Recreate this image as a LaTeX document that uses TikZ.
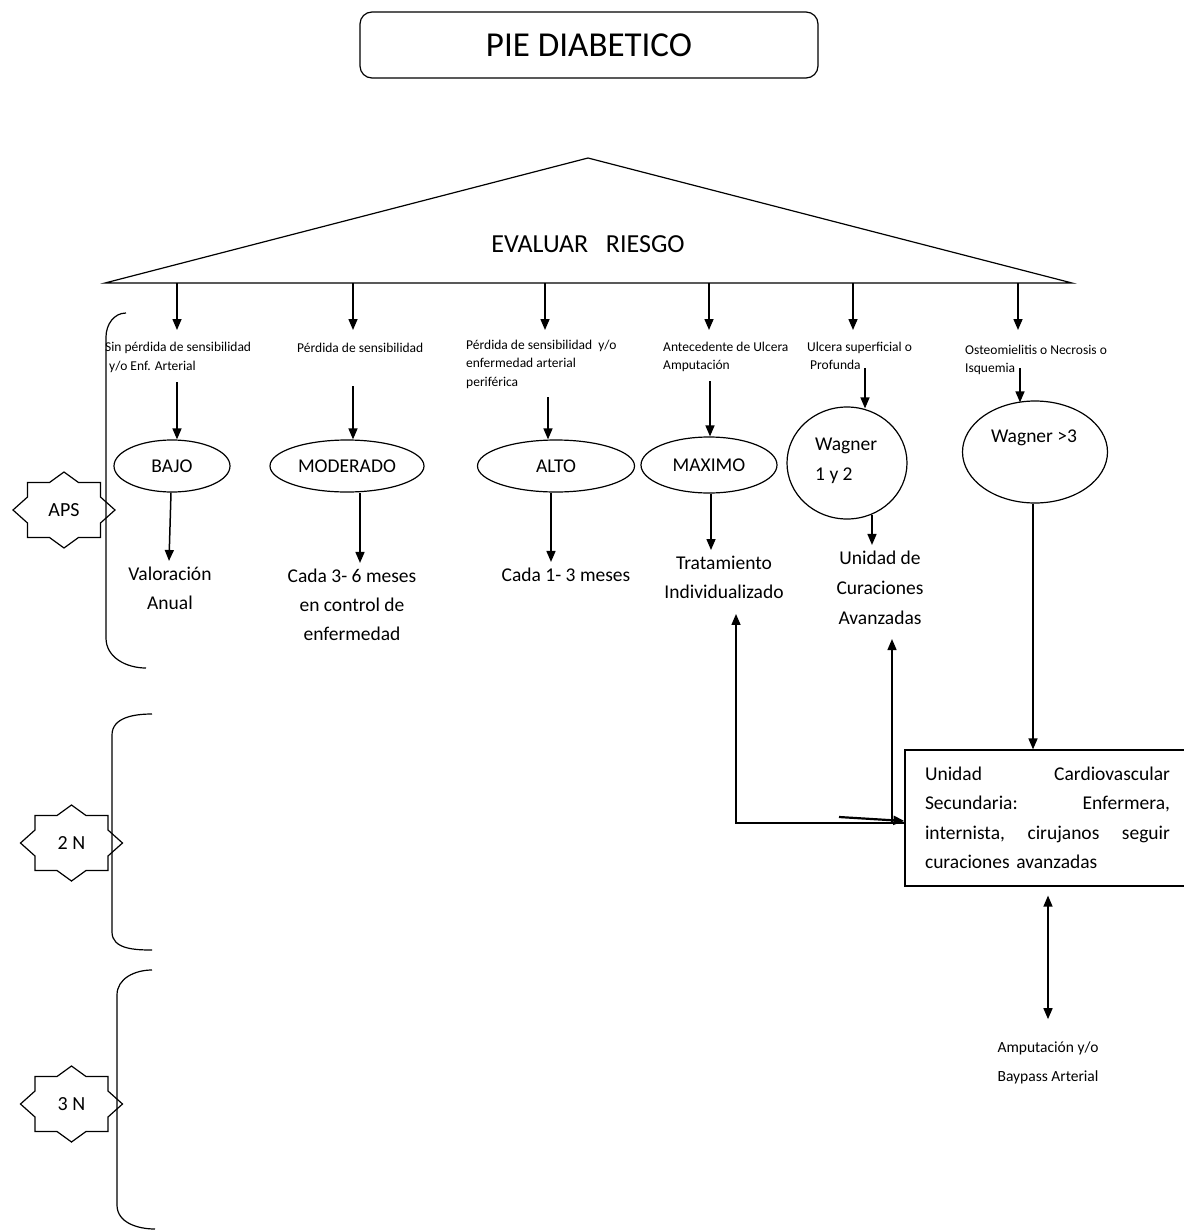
\documentclass[tikz,border=0pt]{standalone}
\usepackage{fontspec}
\setmainfont{Carlito}
\usetikzlibrary{arrows.meta,shapes.geometric}
\begin{document}
\begin{tikzpicture}[x=1pt,y=-1pt,
  arr/.style={line width=1.5pt,-{Triangle[length=11pt,width=9pt]}},
  dbl/.style={line width=1.5pt,{Triangle[length=11pt,width=9pt]}-{Triangle[length=11pt,width=9pt]}},
  ell/.style={draw,ellipse,line width=1.2pt,inner sep=0pt,font=\fontsize{19.5}{29}\selectfont},
  sm/.style={font=\fontsize{13.5}{18.5}\selectfont,align=left,inner sep=0pt,anchor=west},
  med/.style={font=\fontsize{19.5}{29}\selectfont,align=center,inner sep=6pt},
  mfont/.style={font=\fontsize{19.5}{30}\selectfont,inner sep=0pt},
  starfont/.style={font=\fontsize{20}{24}\selectfont},
  brk/.style={line width=1.2pt},
  starpic/.pic={\draw[line width=1.2pt] (-51,0) -- (-36.5,-13) -- (-36.5,-27.5) -- (-14.5,-27.5) -- (0,-38) -- (14.5,-27.5) -- (36.5,-27.5) -- (36.5,-13) -- (51,0) -- (36.5,13) -- (36.5,27.5) -- (14.5,27.5) -- (0,38) -- (-14.5,27.5) -- (-36.5,27.5) -- (-36.5,13) -- cycle;}]
\useasboundingbox (0,0) rectangle (1183,1231);

% title
\node[draw,rounded corners=12pt,line width=1.2pt,minimum width=458pt,minimum height=66pt,font=\fontsize{35}{42}\selectfont] (title) at (589,45) {PIE DIABETICO};

% triangle
\coordinate (apex) at (588,158);
\coordinate (bl) at (105,283);
\coordinate (br) at (1072,283);
\draw[line width=1.2pt] (bl) -- (apex) -- (br) -- cycle;
\node[font=\fontsize{26}{30}\selectfont] (evaluar) at (588,244) {EVALUAR\ \ \ RIESGO};

% columns from base
\coordinate (tipline) at (0,330);
\coordinate (c1) at (177,283);
\coordinate (c2) at (353,283);
\coordinate (c3) at (545,283);
\coordinate (c4) at (709,283);
\coordinate (c5) at (853,283);
\coordinate (c6) at (1018,283);
\foreach \n in {1,...,6} \draw[arr] (c\n) -- (c\n |- tipline);

% small texts
\node[sm] (t1) at (105,357.5) {Sin pérdida de sensibilidad\\\hspace*{4pt}y/o Enf. Arterial};
\node[sm] (t2) at (297,348) {Pérdida de sensibilidad};
\node[sm] (t3) at (466,364) {Pérdida de sensibilidad\ \ y/o\\enfermedad arterial\\periférica};
\node[sm] (t4) at (663,357) {Antecedente de Ulcera\\Amputación};
\node[sm] (t5) at (807,356) {Ulcera superficial o\\\hspace*{3pt}Profunda};
\node[sm] (t6) at (965,360) {Osteomielitis o Necrosis o\\Isquemia};

% ellipses
\node[ell,minimum width=116pt,minimum height=52pt] (bajo) at (172,466) {BAJO};
\node[ell,minimum width=154pt,minimum height=52pt] (moderado) at (347,466) {MODERADO};
\node[ell,minimum width=157pt,minimum height=52pt] (alto) at (556,466) {ALTO};
\node[ell,minimum width=136pt,minimum height=56pt] (maximo) at (709,465) {MAXIMO};
\node[ell,minimum width=120pt,minimum height=112pt] (w12) at (847,463) {};
\node[mfont,align=left,anchor=west] (w12t) at (815,461) {Wagner\\1 y 2};
\node[ell,minimum width=145pt,minimum height=102pt] (w3) at (1035,452) {};
\node[mfont] (w3t) at (1034,438) {Wagner >3};

% arrows text -> ellipses
\coordinate (d1) at (177,382);
\coordinate (d2) at (353,386);
\coordinate (d3) at (548,397);
\coordinate (d4) at (710,381);
\coordinate (d5) at (865,368);
\coordinate (d6) at (1020,368);
\draw[arr] (d1) -- (d1 |- bajo.north);
\draw[arr] (d2) -- (d2 |- moderado.north);
\draw[arr] (d3) -- (d3 |- alto.north);
\draw[arr] (d4) -- (d4 |- maximo.north);
\draw[arr] (d5) -- ([yshift=-2pt]d5 |- w12.north);
\draw[arr] (d6) -- ([yshift=-2pt]d6 |- w3.north);

% results
\node[med] (valor) at (170,588.5) {Valoración\\Anual};
\node[med] (cada36) at (352,605) {Cada 3- 6 meses\\en control de\\enfermedad};
\node[med] (cada13) at (566,575) {Cada 1- 3 meses};
\node[med] (trat) at (724,577.5) {Tratamiento\\Individualizado};
\node[med,font=\fontsize{19.5}{30}\selectfont] (unidad) at (880,588) {Unidad de\\Curaciones\\Avanzadas};

% box
\node[draw,line width=1.2pt,minimum width=285pt,minimum height=136pt,text width=245pt,align=left,font=\fontsize{19.5}{29.5}\selectfont] (box) at (1047.5,818) {Unidad\hfill Cardiovascular\\Secundaria:\hfill Enfermera,\\internista,\hfill cirujanos\hfill seguir\\curaciones avanzadas};

% bottom text
\node[font=\fontsize{15.5}{29}\selectfont,align=center,inner sep=6pt] (amput) at (1048,1062.5) {Amputación y/o\\Baypass Arterial};

% arrows ellipses -> results
\coordinate (m2) at (360,0);
\coordinate (m3) at (551,0);
\coordinate (m4) at (711,0);
\coordinate (m5) at (872,0);
\coordinate (m6) at (1033,0);
\draw[arr] ([xshift=-1pt]bajo.south) -- ([xshift=-1pt]valor.north);
\draw[arr] (m2 |- moderado.south) -- (m2 |- cada36.north);
\draw[arr] (m3 |- alto.south) -- (m3 |- cada13.north);
\draw[arr] (m4 |- maximo.south) -- (m4 |- trat.north);
\draw[arr] ([yshift=5pt]m5 |- w12.south) -- (m5 |- unidad.north);
\draw[arr] (m6 |- w3.south) -- (m6 |- box.north);

% box connectors
\coordinate (k1) at (736,823);
\coordinate (k2) at (892,823);
\coordinate (k3) at (839,817);
\draw[arr] (box.west |- k1) -- (k1) -- ([yshift=-9pt]k1 |- trat.south);
\draw[arr] (k2) -- ([yshift=-8pt]k2 |- unidad.south);
\draw[arr,line width=2.2pt] (k3) -- ([yshift=-3pt]box.west);
\draw[dbl] ([yshift=-9pt]box.south -| amput.north) -- ([yshift=16pt]amput.north);

% brackets
\draw[brk] (126,313) to[out=180,in=90] (106,337) -- (106,638) to[out=-90,in=180] (146,668);
\draw[brk] (152,714) to[out=180,in=90] (112,735) -- (112,932) to[out=-90,in=180] (152,950);
\draw[brk] (152,970) to[out=180,in=90] (117,995) -- (117,1205) to[out=-90,in=180] (155,1229);

% stars
\node[starfont] (aps) at (64,510) {APS};
\pic at (aps) {starpic};
\node[starfont] (n2) at (71.5,843) {2 N};
\pic at (n2) {starpic};
\node[starfont] (n3) at (71.5,1104) {3 N};
\pic at (n3) {starpic};
\end{tikzpicture}
\end{document}
